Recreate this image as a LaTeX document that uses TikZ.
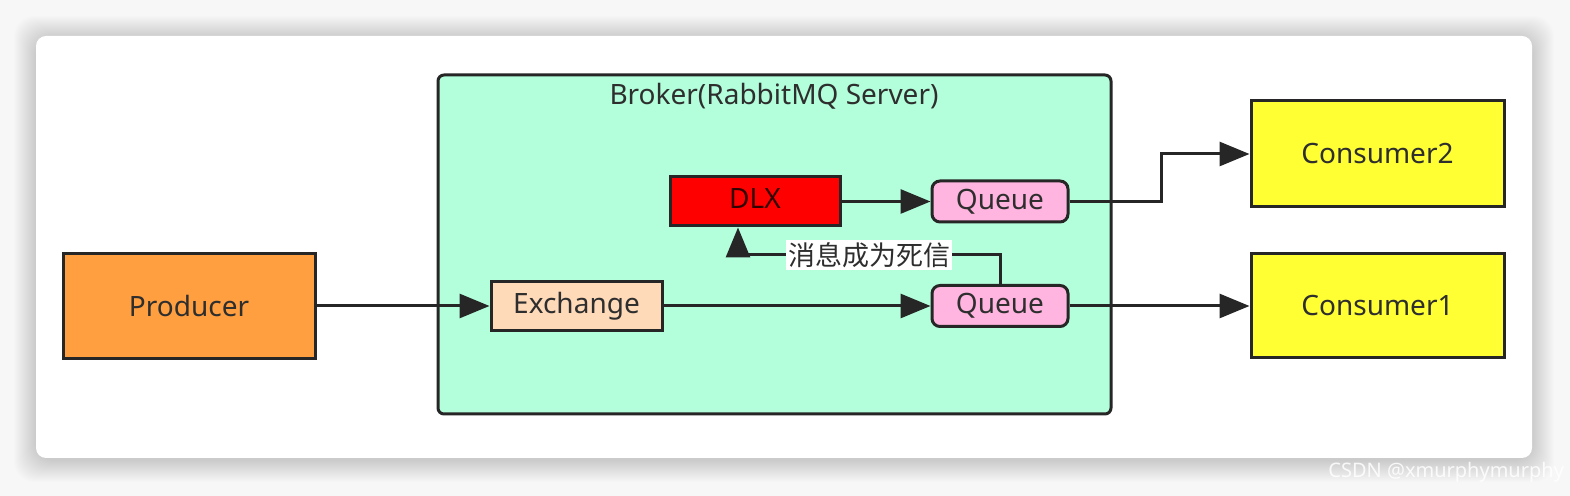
\documentclass[tikz,border=0pt]{standalone}
\usepackage{fontspec}
\setmainfont{Noto Sans}
\newfontfamily\cjk{Noto Sans CJK SC}
\usetikzlibrary{arrows.meta}
\definecolor{brokerfill}{HTML}{B3FFDB}
\definecolor{prodfill}{HTML}{FF9F40}
\definecolor{exchfill}{HTML}{FFDAB9}
\definecolor{queuefill}{HTML}{FFB5DF}
\definecolor{consfill}{HTML}{FFFF33}
\definecolor{edge}{HTML}{262626}
\definecolor{txt}{HTML}{2E2E2E}
\definecolor{pagebg}{HTML}{F7F7F7}
\tikzset{
  box/.style={draw=edge, line width=1.5pt, inner sep=0pt, text=txt, font=\fontsize{14}{16}\selectfont},
  roundbox/.style={box, rounded corners=4pt},
  conn/.style={draw=edge, line width=1.5pt, -{Triangle[length=15pt,width=12pt]}},
}
\begin{document}
\begin{tikzpicture}[x=0.5pt,y=-0.5pt]
\useasboundingbox (0,0) rectangle (1570,496);
\fill[pagebg] (0,0) rectangle (1570,496);
% shadow of the card
\foreach \i in {1,...,22}{
  \fill[black,opacity=0.008,rounded corners=10pt] (36-\i,36-\i+2) rectangle (1532+\i,458+\i+2);
}
\fill[white,rounded corners=5pt] (36,36) rectangle (1532,458);
% watermark
\node[text=white,opacity=0.85,font=\fontsize{10}{12}\selectfont,anchor=west,inner sep=0pt] (wm) at (1328,472) {CSDN @xmurphymurphy};

% broker container
\node[roundbox, fill=brokerfill, minimum width=336.5pt, minimum height=169.5pt, rounded corners=3pt] (broker) at (774.5,244.5) {};
\node[text=txt,font=\fontsize{14}{16}\selectfont] (btitle) at (774,96) {Broker(RabbitMQ Server)};

% nodes
\node[box, fill=prodfill, minimum width=126pt, minimum height=52.5pt] (prod) at (189,306) {Producer};
\node[box, fill=exchfill, minimum width=85.5pt, minimum height=24.5pt] (exch) at (576.5,306) {\raisebox{2.5pt}{Exchange}};
\node[box, fill=red, text=black!80!red, minimum width=85pt, minimum height=24.5pt] (dlx) at (755,201.5) {\raisebox{3pt}{DLX}};
\node[roundbox, fill=queuefill, minimum width=68pt, minimum height=20.5pt] (q2) at (1000,201.5) {Queue};
\node[roundbox, fill=queuefill, minimum width=68pt, minimum height=20.5pt] (q1) at (1000,306) {Queue};
\node[box, fill=consfill, minimum width=126.5pt, minimum height=53pt] (c2) at (1377.5,154) {Consumer2};
\node[box, fill=consfill, minimum width=126.5pt, minimum height=52pt] (c1) at (1377.5,306) {Consumer1};

% connectors
\draw[conn] (prod.east) -- (exch.west);
\draw[conn] (exch.east) -- (q1.west);
\draw[conn] (dlx.east) -- (q2.west);
\draw[conn] (q1.east) -- (c1.west);
\draw[conn] (q2.east) -- ++(92,0) |- (c2.west);
\draw[conn] (q1.north) -- ++(0,-29) -| ([xshift=-8.5pt]dlx.south)
  node[pos=0.25, fill=white, inner sep=1pt, text=txt, font=\cjk\fontsize{13.5}{15}\selectfont] (lbl) {消息成为死信};
\end{tikzpicture}
\end{document}
